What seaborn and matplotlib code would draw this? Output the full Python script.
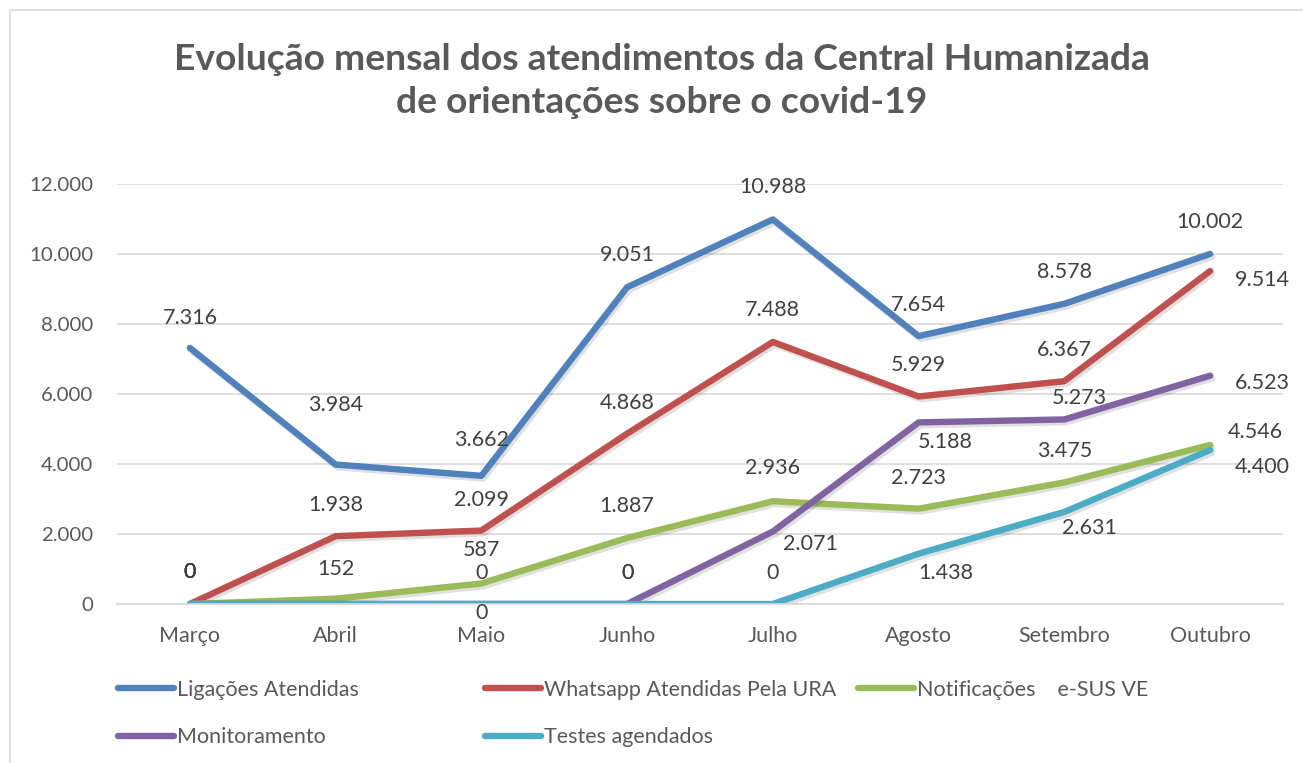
import matplotlib
matplotlib.use("Agg")
import matplotlib.pyplot as plt
import matplotlib.patheffects as pe
from matplotlib.lines import Line2D
from matplotlib.patches import Rectangle
from matplotlib.ticker import FuncFormatter, MultipleLocator
import seaborn as sns
import pandas as pd

# ---- data ----
meses = ["Março", "Abril", "Maio", "Junho", "Julho", "Agosto", "Setembro", "Outubro"]
series_names = ["Ligações Atendidas", "Whatsapp Atendidas Pela URA", "Notificações    e-SUS VE",
                "Monitoramento", "Testes agendados"]
ligacoes = [7316, 3984, 3662, 9051, 10988, 7654, 8578, 10002]
whatsapp = [0, 1938, 2099, 4868, 7488, 5929, 6367, 9514]
notificacoes = [0, 152, 587, 1887, 2936, 2723, 3475, 4546]
monitoramento = [0, 0, 0, 0, 2071, 5188, 5273, 6523]
testes = [0, 0, 0, 0, 0, 1438, 2631, 4400]
all_values = [ligacoes, whatsapp, notificacoes, monitoramento, testes]

colors = ["#4F81BD", "#C0504D", "#9BBB59", "#8064A2", "#4BACC6"]

# label offsets in pixels (dx, dy); None = label not shown
label_offsets = [
    [(0, 30), (0, 60), (0, 36), (0, 32), (0, 32), (0, 31), (0, 32), (0, 32)],
    [(0, 32), (0, 31), (0, 31), (0, 31), (0, 32), (0, 31), (0, 31), (52, -9)],
    [(0, 32), (0, 30), (0, 33), (0, 32), (0, 33), (0, 31), (0, 31), (45, 13)],
    [(0, 32), None, (0, 31), (0, 31), (38, -12), (27, -20), (15, 21), (52, -7)],
    [(0, 32), None, (0, -9), (0, 31), (0, 31), (27, -19), (25, -16), (52, -17)],
]

rows = []
for name, vals in zip(series_names, all_values):
    for m, v in zip(meses, vals):
        rows.append({"Mês": m, "Valor": v, "Série": name})
df = pd.DataFrame(rows)

sns.set_theme(style="white")
FONT = ["Lato", "DejaVu Sans"]
plt.rcParams["font.family"] = FONT

fig = plt.figure(figsize=(13.03, 7.63), dpi=100)
W, H = 1303, 763
ax = fig.add_axes([117 / W, 1 - 604 / H, (1283 - 117) / W, (604 - 184) / H])

sns.lineplot(data=df, x="Mês", y="Valor", hue="Série", palette=colors,
             hue_order=series_names, sort=False, linewidth=4.6, legend=False, ax=ax)

for ln in ax.get_lines():
    ln.set_solid_capstyle("round")
    ln.set_solid_joinstyle("round")
    ln.set_path_effects([pe.SimpleLineShadow(offset=(1.5, -2), alpha=0.12, shadow_color="black"),
                         pe.Normal()])

ax.set_xlim(-0.5, len(meses) - 0.5)
ax.set_ylim(0, 12000)
ax.yaxis.set_major_locator(MultipleLocator(2000))
ax.yaxis.set_major_formatter(FuncFormatter(lambda v, p: f"{v:,.0f}".replace(",", ".")))
ax.grid(axis="y", color="#D9D9D9", linewidth=1.2)
ax.set_axisbelow(True)
for s in ["left", "right", "top"]:
    ax.spines[s].set_visible(False)
ax.spines["bottom"].set_color("#D9D9D9")
ax.spines["bottom"].set_linewidth(1.2)
ax.tick_params(axis="y", length=0, pad=17, labelsize=14.7, labelcolor="#595959")
ax.tick_params(axis="x", length=0, pad=16, labelsize=15.5, labelcolor="#595959")
ax.set_xlabel("")
ax.set_ylabel("")

# data labels
for vals, offs in zip(all_values, label_offsets):
    for i, (v, off) in enumerate(zip(vals, offs)):
        if off is None:
            continue
        ax.annotate(f"{v:,.0f}".replace(",", "."), (i, v), xytext=off,
                    textcoords="offset pixels", ha="center", va="center",
                    fontsize=15.5, color="#404040", annotation_clip=False)

# title
fig.text(662 / W, 1 - 81 / H,
         "Evolução mensal dos atendimentos da Central Humanizada\nde orientações sobre o covid-19",
         ha="center", va="center", fontsize=26.8, fontweight="bold", color="#595959",
         linespacing=1.36)

# legend (three columns)
def mk(idx):
    return Line2D([0], [0], color=colors[idx], linewidth=4.6, solid_capstyle="round")

cols = [([0, 3], 118), ([1, 4], 485), ([2], 858)]
for idxs, xpx in cols:
    leg = fig.legend([mk(i) for i in idxs], [series_names[i] for i in idxs],
                     loc="upper left", bbox_to_anchor=(xpx / W, 1 - 680 / H),
                     frameon=False, fontsize=15.5, handlelength=2.6, handletextpad=0.12,
                     borderpad=0, borderaxespad=0, labelspacing=1.26)
    for t in leg.get_texts():
        t.set_color("#595959")

# chart border
fig.patches.append(Rectangle((10 / W, -0.1), 1.2, (753 / H) + 0.1, transform=fig.transFigure,
                             fill=False, edgecolor="#D9D9D9", linewidth=1.2))

fig.savefig("out.png", dpi=100)
